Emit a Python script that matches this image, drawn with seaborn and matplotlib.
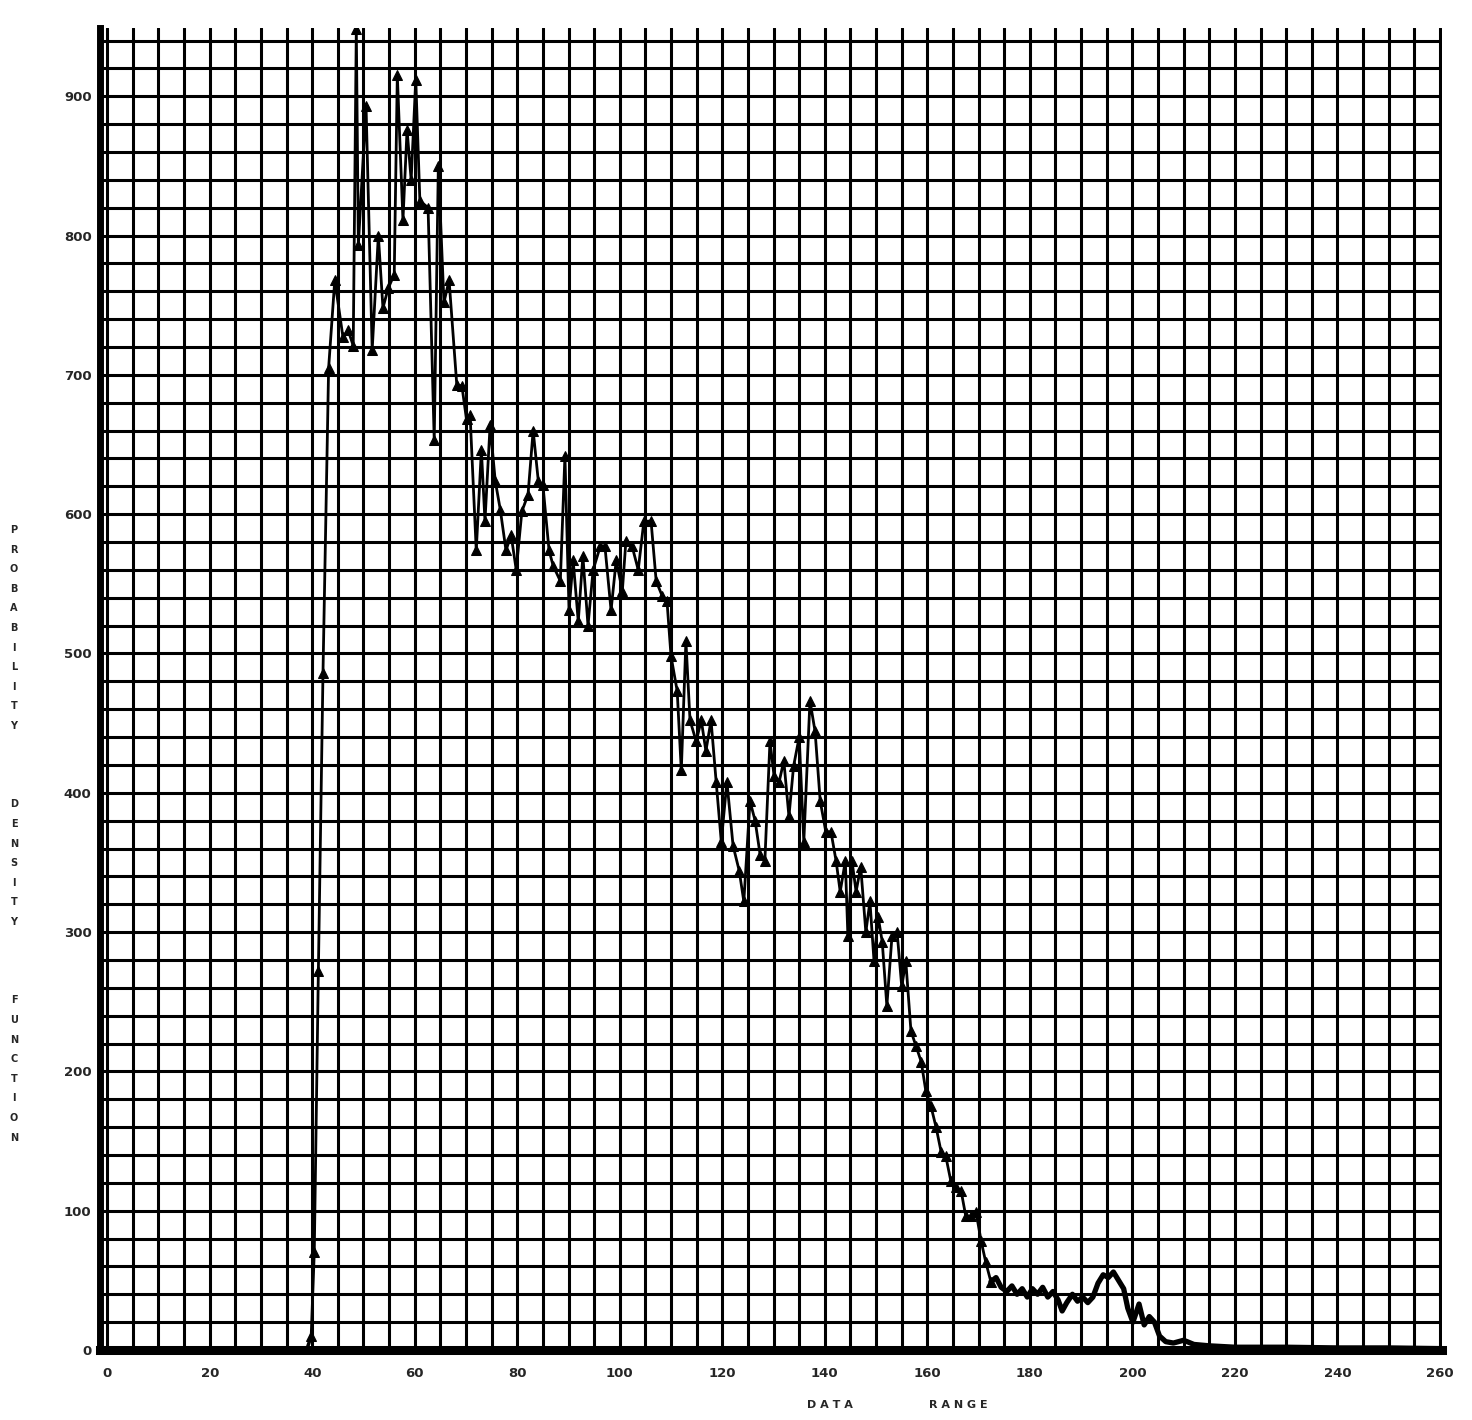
import matplotlib
matplotlib.use("Agg")
import matplotlib.pyplot as plt
import seaborn as sns
import numpy as np

# ---------------- data ----------------
lead_x = [0.0, 10.0, 20.0, 30.0, 39.0, 39.8]
lead_y = [1.0, 1.0, 1.0, 1.0, 1.0, 10.0]

pdf_x = [39.8, 40.4, 41.2, 42.1, 43.2, 44.4, 46.0, 47.0, 48.0, 48.6, 49.0, 50.5, 51.7,
         52.9, 53.8, 54.8, 56.0, 56.6, 57.7, 58.5, 59.3, 60.2, 61.0, 62.6, 63.8, 64.6,
         65.7, 66.7, 68.2, 69.2, 70.1, 70.8, 72.0, 73.0, 73.7, 74.7, 75.7, 76.7, 77.8,
         78.8, 79.8, 80.9, 82.1, 83.1, 84.1, 85.0, 86.2, 87.0, 88.4, 89.3, 90.1, 90.9,
         91.9, 92.8, 93.8, 94.8, 96.2, 97.1, 98.3, 99.3, 100.5, 101.2, 102.4, 103.6,
         104.7, 106.1, 107.1, 108.3, 109.2, 110.0, 111.2, 112.0, 112.9, 113.7, 114.9,
         115.9, 116.8, 117.8, 118.8, 119.8, 120.9, 122.1, 123.3, 124.2, 125.4, 126.4,
         127.4, 128.3, 129.3, 130.1, 131.1, 132.0, 133.0, 133.9, 135.0, 135.9, 137.1,
         138.1, 139.1, 140.2, 141.2, 142.2, 143.0, 144.0, 144.5, 145.3, 146.1, 147.0,
         148.0, 148.8, 149.6, 150.4, 151.2, 152.1, 153.1, 154.1, 155.0, 155.8, 156.8,
         157.8, 158.8, 159.7, 160.7, 161.7, 162.7, 163.6, 164.6, 165.6, 166.6, 167.5,
         168.5, 169.5, 170.5, 171.4, 172.4]
pdf_y = [10, 70, 272, 486, 705, 768, 727, 732, 721, 948, 793, 893, 718,
         800, 748, 762, 772, 915, 811, 876, 840, 912, 825, 820, 653, 850,
         752, 768, 693, 692, 668, 671, 574, 646, 595, 664, 624, 603, 574,
         585, 560, 602, 614, 660, 624, 621, 574, 563, 552, 642, 531, 567,
         523, 570, 520, 560, 577, 577, 531, 567, 545, 581, 577, 560,
         595, 595, 552, 541, 538, 498, 473, 416, 509, 452, 437,
         452, 430, 452, 408, 365, 408, 362, 344, 322, 394, 380,
         355, 351, 437, 412, 408, 423, 383, 419, 440, 365, 466,
         444, 394, 372, 372, 351, 329, 351, 297, 351, 329, 347,
         300, 322, 279, 311, 293, 247, 297, 300, 261, 279, 229,
         218, 207, 186, 175, 160, 142, 139, 121, 117, 114, 96,
         96, 99, 78, 63, 49]

tail_x = [172.4, 173.4, 174.4, 175.5, 176.5, 177.5, 178.5, 179.5, 180.5, 181.5, 182.5,
          183.5, 184.5, 185.5, 186.3, 187.2, 188.3, 189.3, 190.3, 191.3, 192.3, 193.3,
          194.3, 195.3, 196.3, 197.3, 198.3, 199.1, 200.1, 201.3, 202.3, 203.3, 204.3,
          205.3, 206.5, 208.0, 210.0, 212.0, 215.0, 220.0, 230.0, 240.0, 250.0, 260.0]
tail_y = [49, 52, 45, 42, 46, 40, 44, 38, 44, 40, 45,
          38, 42, 36, 28, 34, 40, 35, 38, 34, 38, 48,
          54, 52, 56, 50, 44, 30, 20, 33, 18, 24, 20,
          10, 6, 5, 7, 4, 3, 2, 2, 1.5, 1.5, 1]

x_ticks = list(range(0, 261, 20))
y_ticks = list(range(0, 901, 100))
x_tick_labels = [str(v) for v in x_ticks]
y_tick_labels = [str(v) for v in y_ticks]
y_label_words = ["PROBABILITY", "DENSITY", "FUNCTION"]
x_label_words = ["DATA", "RANGE"]

# ---------------- figure ----------------
sns.set_style("white")
plt.rcParams["font.family"] = ["DejaVu Sans"]

fig = plt.figure(figsize=(14.72, 14.20), dpi=100)
ax = fig.add_axes([100 / 1472, 1 - 1350 / 1420, (1442 - 100) / 1472, (1350 - 28) / 1420])

ax.set_xlim(-1.4, 260.4)
ax.set_ylim(0, 949)

# grid: verticals every 5 units, horizontals every 20 units
for xv in np.arange(0, 261, 5):
    ax.axvline(xv, color="black", lw=2.2, zorder=1)
for yv in np.arange(20, 941, 20):
    ax.axhline(yv, xmin=0, xmax=1, color="black", lw=2.2, zorder=1)

sns.lineplot(x=lead_x, y=lead_y, ax=ax, color="black", lw=2.5, sort=False, zorder=3)
sns.lineplot(x=pdf_x, y=pdf_y, ax=ax, color="black", lw=2.0, sort=False,
             marker="^", markersize=6.5, markeredgecolor="black", markerfacecolor="black",
             zorder=4)
sns.lineplot(x=tail_x, y=tail_y, ax=ax, color="black", lw=3.8, sort=False, zorder=4)

for s in ["top", "right"]:
    ax.spines[s].set_visible(False)
ax.spines["left"].set_linewidth(5)
ax.spines["bottom"].set_linewidth(6.5)
ax.spines["left"].set_color("black")
ax.spines["bottom"].set_color("black")

ax.set_xticks(x_ticks)
ax.set_xticklabels(x_tick_labels, fontsize=9.5, fontweight="bold")
ax.set_yticks(y_ticks)
ax.set_yticklabels(y_tick_labels, fontsize=9.5, fontweight="bold")
ax.tick_params(axis="both", length=0)
ax.tick_params(axis="x", pad=12)
ax.tick_params(axis="y", pad=6)
ax.set_xlabel("")
ax.set_ylabel("")

# stacked vertical y-label
y_pos = 530
step = 19.6
for wi, word in enumerate(y_label_words):
    for ch in word:
        fig.text(14 / 1472, 1 - y_pos / 1420, ch, fontsize=7, fontweight="bold",
                 ha="center", va="center")
        y_pos += step
    y_pos += step * 3

fig.text(830 / 1472, 1 - 1405 / 1420, " ".join(list(x_label_words[0])),
         fontsize=8, fontweight="bold", ha="center", va="center")
fig.text(958 / 1472, 1 - 1405 / 1420, " ".join(list(x_label_words[1])),
         fontsize=8, fontweight="bold", ha="center", va="center")

fig.savefig("out.png", dpi=100, facecolor="white")
